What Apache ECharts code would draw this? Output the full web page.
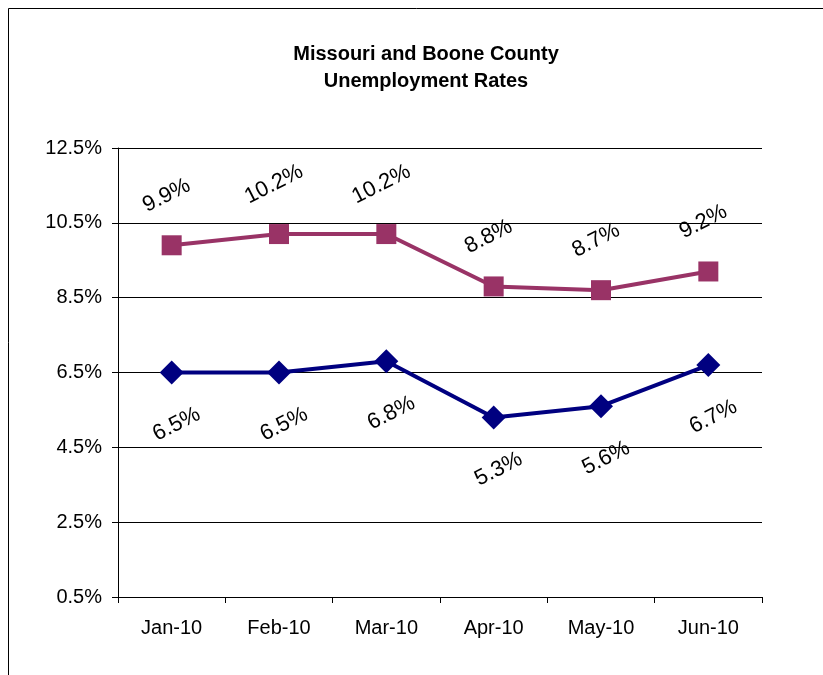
<!DOCTYPE html>
<html>
<head>
<meta charset="utf-8">
<script src="https://cdn.jsdelivr.net/npm/echarts@6/dist/echarts.min.js"></script>
<style>
  html, body { margin: 0; padding: 0; background: #fff; }
  #main { width: 823px; height: 675px; }
</style>
</head>
<body>
<div id="main"></div>
<script>
// values
var months = ["Jan-10", "Feb-10", "Mar-10", "Apr-10", "May-10", "Jun-10"];
var missouri = [9.9, 10.2, 10.2, 8.8, 8.7, 9.2];
var boone = [6.5, 6.5, 6.8, 5.3, 5.6, 6.7];

var myChart = echarts.init(document.getElementById("main"));

var font = "Liberation Sans, Arial, sans-serif";

var option = {
  animation: false,
  backgroundColor: "#fff",
  graphic: [
    {
      type: "rect",
      shape: { x: 8.5, y: 8.5, width: 840, height: 700 },
      style: { fill: "none", stroke: "#000", lineWidth: 1 },
    },
  ],
  title: {
    text: "Missouri and Boone County\nUnemployment Rates",
    left: 421,
    textAlign: "center",
    top: 36,
    textStyle: {
      fontFamily: font,
      fontSize: 20,
      fontWeight: "bold",
      color: "#000",
      lineHeight: 27,
    },
  },
  grid: { left: 118, right: 61, top: 148, bottom: 78 },
  xAxis: {
    type: "category",
    data: months,
    boundaryGap: true,
    axisLine: { lineStyle: { color: "#000", width: 1 } },
    axisTick: { show: true, length: 6, lineStyle: { color: "#000" } },
    axisLabel: {
      fontFamily: font,
      fontSize: 20,
      color: "#000",
      margin: 21,
    },
  },
  yAxis: {
    type: "value",
    min: 0.5,
    max: 12.5,
    interval: 2,
    axisLine: { show: true, lineStyle: { color: "#000", width: 1 } },
    axisTick: { show: true, length: 6, lineStyle: { color: "#000" } },
    splitLine: { lineStyle: { color: "#000", width: 1 } },
    axisLabel: {
      fontFamily: font,
      fontSize: 20,
      color: "#000",
      margin: 16,
      formatter: function (v) {
        return v.toFixed(1) + "%";
      },
    },
  },
  series: [
    {
      name: "Missouri",
      type: "line",
      data: missouri,
      symbol: "rect",
      symbolSize: 20,
      itemStyle: { color: "#993366" },
      lineStyle: { color: "#993366", width: 4 },
      label: {
        show: true,
        position: "top",
        distance: 30,
        rotate: 27,
        fontFamily: font,
        fontSize: 22,
        color: "#000",
        formatter: function (p) {
          return p.value.toFixed(1) + "%";
        },
      },
    },
    {
      name: "Boone County",
      type: "line",
      data: boone,
      symbol: "diamond",
      symbolSize: 24,
      itemStyle: { color: "#000080" },
      lineStyle: { color: "#000080", width: 4 },
      label: {
        show: true,
        position: "bottom",
        distance: 30,
        rotate: 27,
        fontFamily: font,
        fontSize: 22,
        color: "#000",
        formatter: function (p) {
          return p.value.toFixed(1) + "%";
        },
      },
    },
  ],
};
myChart.setOption(option);
</script>
</body>
</html>
